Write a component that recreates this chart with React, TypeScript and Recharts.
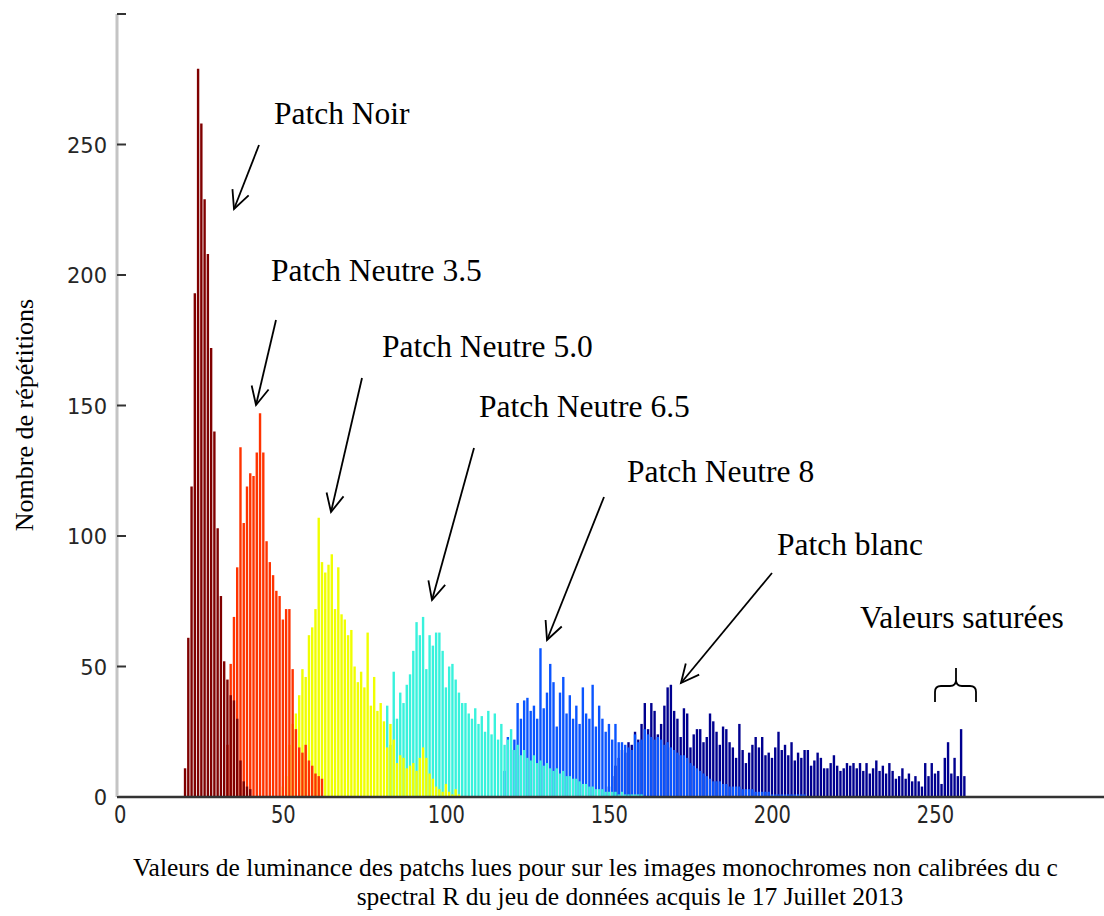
import React from "react";
import { BarChart, Bar, XAxis, YAxis } from "recharts";

// histogram counts per luminance value, each patch starts at its own bin
const noirStart = 20;
const noirCounts = [11, 61, 119, 193, 279, 258, 229, 208, 172, 140, 103, 77, 52, 45, 39, 37, 30, 14, 6, 4, 3];

const neutre35Start = 33;
const neutre35Counts = [
  20, 51, 69, 88, 134, 105, 119, 124, 123, 132, 147, 132, 98, 90, 85, 79, 77, 68, 72, 72, 49, 26, 19, 17, 20,
  14, 12, 9, 8, 7,
];

const neutre50Start = 50;
const neutre50Counts = [
  4, 8, 20, 28, 32, 39, 49, 46, 62, 65, 72, 107, 90, 86, 89, 93, 72, 88, 70, 68, 62, 64, 50, 44, 48, 42, 63,
  35, 46, 33, 36, 29, 19, 28, 22, 13, 16, 15, 11, 12, 13, 10, 15, 19, 15, 9, 7, 4, 3, 2, 5, 2, 1, 3, 1,
];

const neutre65Start = 82;
const neutre65Counts = [
  35, 20, 48, 30, 40, 36, 43, 47, 56, 67, 62, 69, 49, 62, 58, 63, 63, 56, 42, 50, 51, 45, 40, 36, 36, 32, 30,
  34, 28, 31, 25, 33, 24, 32, 22, 28, 20, 22, 26, 18, 20, 16, 18, 15, 14, 16, 13, 14, 12, 13, 11, 10, 11, 9,
  10, 8, 8, 7, 7, 6, 5, 5, 4, 4, 3, 3, 3, 2, 2, 2, 2, 1, 2, 1, 1, 1, 1, 1, 1,
];

const neutre8Start = 118;
const neutre8Counts = [
  10, 23, 18, 22, 36, 30, 37, 38, 33, 35, 30, 57, 34, 40, 51, 44, 27, 40, 46, 32, 39, 30, 35, 28, 42, 32, 30,
  43, 27, 35, 30, 25, 28, 22, 28, 21, 21, 20, 19, 18, 24, 21, 22, 26, 24, 23, 22, 23, 22, 20, 21, 19, 18, 17,
  16, 16, 15, 13, 12, 11, 10, 9, 8, 7, 6, 6, 6, 5, 5, 4, 4, 4, 4, 3, 3, 3, 3, 2, 2, 2, 2, 2, 1, 1, 1, 1, 1, 1,
  1, 1, 1, 1, 1,
];

const blancStart = 150;
const blancCounts = [
  4, 8, 12, 15, 18, 17, 21, 20, 25, 22, 28, 36, 26, 36, 33, 24, 28, 35, 42, 43, 33, 30, 23, 34, 32, 19, 24,
  26, 26, 21, 23, 32, 29, 25, 20, 27, 26, 21, 19, 15, 28, 18, 13, 17, 20, 23, 19, 23, 16, 17, 15, 19, 25, 18,
  20, 16, 21, 14, 17, 15, 18, 18, 12, 14, 17, 15, 11, 11, 13, 16, 12, 10, 11, 13, 12, 13, 11, 13, 10, 13, 9,
  11, 14, 10, 12, 9, 13, 10, 7, 8, 11, 7, 9, 6, 8, 6, 4, 13, 8, 13, 9, 10, 5, 15, 21, 9, 15, 8, 26, 8,
];

const xTicks = [0, 50, 100, 150, 200, 250];
const yTicks = [0, 50, 100, 150, 200, 250, 300];
const frameTicksX = [0, 50, 100, 150, 200, 250, 300];

const series = [
  { key: "noir", start: noirStart, counts: noirCounts, color: "#800000" },
  { key: "n35", start: neutre35Start, counts: neutre35Counts, color: "#ff3300" },
  { key: "n50", start: neutre50Start, counts: neutre50Counts, color: "#f0ff00" },
  { key: "n65", start: neutre65Start, counts: neutre65Counts, color: "#38f2dc" },
  { key: "n8", start: neutre8Start, counts: neutre8Counts, color: "#0a55ff" },
  { key: "blanc", start: blancStart, counts: blancCounts, color: "#00008f" },
];

const rows: any[] = [];
for (let v = 20; v <= 259; v++) {
  const row: any = { v };
  series.forEach((s) => {
    const i = v - s.start;
    if (i >= 0 && i < s.counts.length) row[s.key] = s.counts[i];
  });
  rows.push(row);
}

const X_DOMAIN: [number, number] = [-1, 302];
const AXIS_FONT = "'DejaVu Sans', Verdana, sans-serif";
const SERIF = "'Liberation Serif', 'Times New Roman', serif";

function LeftTick({ x, y, payload }: any) {
  return (
    <g>
      <line x1={x} x2={x + 9} y1={y} y2={y} stroke="#333" strokeWidth={2} />
      {payload.value < 300 && (
        <text
          x={x - 10}
          y={y + 8}
          textAnchor="end"
          fontFamily={AXIS_FONT}
          fontSize={21}
          fill="#262626"
        >
          {payload.value}
        </text>
      )}
    </g>
  );
}

function BottomTick({ x, y, payload }: any) {
  return (
    <text
      transform={`translate(${x},${y + 26}) scale(1,1.28)`}
      textAnchor="middle"
      fontFamily={AXIS_FONT}
      fontSize={19.5}
      fill="#262626"
    >
      {payload.value}
    </text>
  );
}

function TopTick({ x, y }: any) {
  return <line x1={x} x2={x} y1={y} y2={y + 9} stroke="#333" strokeWidth={2} />;
}

function RightTick({ x, y }: any) {
  return <line x1={x - 9} x2={x} y1={y} y2={y} stroke="#333" strokeWidth={2} />;
}

function Arrow({ from, to }: { from: number[]; to: number[] }) {
  const ang = Math.atan2(to[1] - from[1], to[0] - from[0]);
  const len = 20;
  const spread = 0.45;
  const w1 = [to[0] - len * Math.cos(ang - spread), to[1] - len * Math.sin(ang - spread)];
  const w2 = [to[0] - len * Math.cos(ang + spread), to[1] - len * Math.sin(ang + spread)];
  return (
    <g stroke="#000" strokeWidth={1.8} fill="none">
      <line x1={from[0]} y1={from[1]} x2={to[0]} y2={to[1]} />
      <polyline points={`${w1[0]},${w1[1]} ${to[0]},${to[1]} ${w2[0]},${w2[1]}`} />
    </g>
  );
}

const notes = [
  { text: "Patch Noir", x: 274, y: 124, from: [259, 145], to: [234, 209] },
  { text: "Patch Neutre 3.5", x: 271, y: 281, from: [276, 320], to: [256, 405] },
  { text: "Patch Neutre 5.0", x: 382, y: 357, from: [362, 378], to: [331, 512] },
  { text: "Patch Neutre 6.5", x: 479, y: 417, from: [474, 448], to: [432, 600] },
  { text: "Patch Neutre 8", x: 627, y: 482, from: [604, 497], to: [547, 640] },
  { text: "Patch blanc", x: 777, y: 555, from: [772, 573], to: [681, 683] },
];

export default function App() {
  return (
    <div
      style={{
        position: "absolute",
        left: 0,
        top: 0,
        width: 1104,
        height: 916,
        overflow: "hidden",
        background: "#fff",
      }}
    >
      <BarChart
        width={1105}
        height={916}
        data={rows}
        margin={{ top: 14, right: 0, bottom: 0, left: 0 }}
      >
        <XAxis
          xAxisId="bottom"
          dataKey="v"
          type="number"
          domain={X_DOMAIN}
          ticks={xTicks}
          height={119}
          axisLine={{ stroke: "#333", strokeWidth: 2.5 }}
          tickLine={false}
          tickSize={0}
          tickMargin={0}
          tick={<BottomTick />}
        />
        {series.map((s) => (
          <XAxis
            key={s.key}
            xAxisId={s.key}
            dataKey="v"
            type="number"
            domain={X_DOMAIN}
            height={0}
            hide
          />
        ))}
        <XAxis
          xAxisId="top"
          orientation="top"
          dataKey="v"
          type="number"
          domain={X_DOMAIN}
          ticks={frameTicksX}
          height={0}
          axisLine={{ stroke: "#c8c8c8", strokeWidth: 2 }}
          tickLine={false}
          tickSize={0}
          tickMargin={0}
          tick={<TopTick />}
        />
        <YAxis
          yAxisId="left"
          type="number"
          domain={[0, 300]}
          ticks={yTicks}
          width={117}
          axisLine={{ stroke: "#c4c4c4", strokeWidth: 3 }}
          tickLine={false}
          tickSize={0}
          tickMargin={0}
          tick={<LeftTick />}
        />
        <YAxis
          yAxisId="right"
          orientation="right"
          type="number"
          domain={[0, 300]}
          ticks={yTicks}
          width={0}
          axisLine={{ stroke: "#c8c8c8", strokeWidth: 2 }}
          tickLine={false}
          tickSize={0}
          tickMargin={0}
          tick={<RightTick />}
        />
        {[...series].reverse().map((s) => (
          <Bar
            key={s.key}
            xAxisId={s.key}
            yAxisId="left"
            dataKey={s.key}
            fill={s.color}
            barSize={2.4}
            isAnimationActive={false}
          />
        ))}
      </BarChart>

      <svg
        width={1104}
        height={916}
        style={{ position: "absolute", left: 0, top: 0, pointerEvents: "none" }}
      >
        <text
          transform="translate(24,415) rotate(-90)"
          textAnchor="middle"
          dominantBaseline="central"
          fontFamily={SERIF}
          fontSize={26}
          fill="#000"
        >
          Nombre de répétitions
        </text>

        {notes.map((n) => (
          <g key={n.text}>
            <text x={n.x} y={n.y} fontFamily={SERIF} fontSize={31.5} fill="#000">
              {n.text}
            </text>
            <Arrow from={n.from} to={n.to} />
          </g>
        ))}

        <text x={860} y={628} fontFamily={SERIF} fontSize={31.5} fill="#000">
          Valeurs saturées
        </text>
        <path
          d="M935,702 L935,692 Q935,686 941,686 L950,686 Q956,686 956,680 L956,668 M956,680 Q956,686 962,686 L970,686 Q976,686 976,692 L976,702"
          stroke="#000"
          strokeWidth={1.8}
          fill="none"
        />

        <text x={133} y={876} fontFamily={SERIF} fontSize={25.5} fill="#000">
          Valeurs de luminance des patchs lues pour sur les images monochromes non calibrées du c
        </text>
        <text x={630} y={905} textAnchor="middle" fontFamily={SERIF} fontSize={25.5} fill="#000">
          spectral R du jeu de données acquis le 17 Juillet 2013
        </text>
      </svg>
    </div>
  );
}
